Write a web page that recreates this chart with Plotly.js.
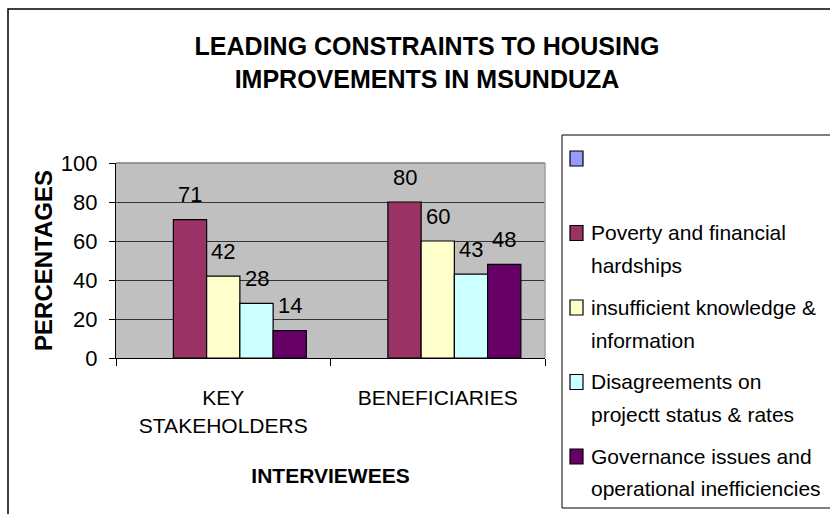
<!DOCTYPE html>
<html>
<head>
<meta charset="utf-8">
<script src="https://cdn.plot.ly/plotly-3.0.1.min.js"></script>
<style>
  html, body { margin: 0; padding: 0; background: #ffffff; }
  #chart { width: 830px; height: 514px; }
</style>
</head>
<body>
<div id="chart"></div>
<script>
// ---- data ----
const categories = ["KEY<br>STAKEHOLDERS", "BENEFICIARIES"];
const seriesNames = [
  "",
  "Poverty and financial\nhardships",
  "insufficient knowledge &\ninformation",
  "Disagreements on\nprojectt status & rates",
  "Governance issues and\noperational inefficiencies"
];
const seriesColors = ["#9999FF", "#993366", "#FFFFCC", "#CCFFFF", "#660066"];
const seriesValues = [
  [null, null],
  [71, 80],
  [42, 60],
  [28, 43],
  [14, 48]
];
const yTicks = [0, 20, 40, 60, 80, 100];
const chartTitle = "LEADING CONSTRAINTS TO HOUSING<br>IMPROVEMENTS IN MSUNDUZA";
const xTitle = "INTERVIEWEES";
const yTitle = "PERCENTAGES";

// ---- layout geometry (pixels of the 830x514 page) ----
const L = 116, R = 545, T = 163, B = 358;
const W = R - L, H = B - T;
const px = x => (x - L) / W;
const py = y => (B - y) / H;
const FONT = "Liberation Sans, Arial, Helvetica, sans-serif";
const bargap = 0.225;

const traces = seriesNames.map((name, s) => ({
  type: "bar",
  x: categories,
  y: seriesValues[s],
  name: name,
  marker: { color: seriesColors[s], line: { color: "#000000", width: 1.2 } },
  hoverinfo: "y",
  showlegend: false
}));

// data labels above bars, placed on the category serial scale
const annotations = [];
const nS = seriesNames.length;
const groupW = 1 - bargap;
seriesValues.forEach((vals, s) => {
  vals.forEach((v, i) => {
    if (v === null) return;
    annotations.push({
      xref: "x", yref: "y",
      x: i - groupW / 2 + (s + 0.5) * groupW / nS,
      y: v,
      text: String(v),
      showarrow: false,
      xanchor: "center", yanchor: "middle",
      yshift: 25,
      font: { family: FONT, size: 22, color: "#000000" }
    });
  });
});

// legend (drawn manually to follow the original spacing)
const shapes = [];
const legendTop = 158, legendPitch = 74.5, lineGap = 33;
seriesNames.forEach((name, s) => {
  const cy = legendTop + s * legendPitch;
  shapes.push({
    type: "rect", xref: "paper", yref: "paper",
    x0: px(570), x1: px(583), y0: py(cy + 8), y1: py(cy - 7),
    fillcolor: seriesColors[s], line: { color: "#000000", width: 1.2 }
  });
  name.split("\n").forEach((line, k) => {
    if (!line) return;
    annotations.push({
      xref: "paper", yref: "paper",
      x: px(589), y: py(cy + k * lineGap),
      text: line, showarrow: false,
      xanchor: "left", yanchor: "middle",
      font: { family: FONT, size: 21, color: "#000000" }
    });
  });
});

// legend box
shapes.push({
  type: "rect", xref: "paper", yref: "paper",
  x0: px(562), x1: px(860), y0: py(508), y1: py(135),
  line: { color: "#000000", width: 1 }, fillcolor: "rgba(0,0,0,0)"
});
// outer chart frame
shapes.push({
  type: "rect", xref: "paper", yref: "paper",
  x0: px(8), x1: px(870), y0: py(540), y1: py(9),
  line: { color: "#000000", width: 1.5 }, fillcolor: "rgba(0,0,0,0)"
});
// plot-area border (top and right in grey)
shapes.push({ type: "line", xref: "paper", yref: "paper", x0: 0, x1: 1, y0: 1, y1: 1,
  line: { color: "#808080", width: 1.5 } });
shapes.push({ type: "line", xref: "paper", yref: "paper", x0: 1, x1: 1, y0: 0, y1: 1,
  line: { color: "#a0a0a0", width: 1.5 } });

const layout = {
  width: 830, height: 514,
  margin: { l: L, r: 830 - R, t: T, b: 514 - B, pad: 0 },
  paper_bgcolor: "#ffffff",
  plot_bgcolor: "#C0C0C0",
  barmode: "group",
  bargap: bargap,
  bargroupgap: 0,
  showlegend: false,
  font: { family: FONT, color: "#000000" },
  title: {
    text: chartTitle,
    font: { family: FONT, size: 25, weight: "bold", color: "#000000" },
    xref: "container", x: 427 / 830, xanchor: "center",
    yref: "container", y: 1 - 55 / 514, yanchor: "middle"
  },
  xaxis: {
    type: "category",
    showgrid: false,
    showline: true, linecolor: "#000000", linewidth: 1.2,
    ticks: "outside", tickson: "boundaries", ticklen: 7, tickcolor: "#000000",
    tickfont: { family: FONT, size: 21, color: "#000000" },
    ticklabelstandoff: 21,
    title: {
      text: xTitle,
      font: { family: FONT, size: 21, weight: "bold", color: "#000000" },
      standoff: 32
    },
    fixedrange: true
  },
  yaxis: {
    range: [0, 100],
    tickvals: yTicks,
    ticktext: yTicks.map(String),
    showgrid: true, gridcolor: "#333333", gridwidth: 1,
    zeroline: false,
    showline: true, linecolor: "#000000", linewidth: 1.2,
    ticks: "outside", ticklen: 6, tickcolor: "#000000",
    tickfont: { family: FONT, size: 22, color: "#000000" },
    ticklabelstandoff: 7,
    title: {
      text: yTitle,
      font: { family: FONT, size: 24, weight: "bold", color: "#000000" },
      standoff: 1
    },
    fixedrange: true
  },
  annotations: annotations,
  shapes: shapes
};

Plotly.newPlot("chart", traces, layout, { staticPlot: true, displayModeBar: false });
</script>
</body>
</html>
